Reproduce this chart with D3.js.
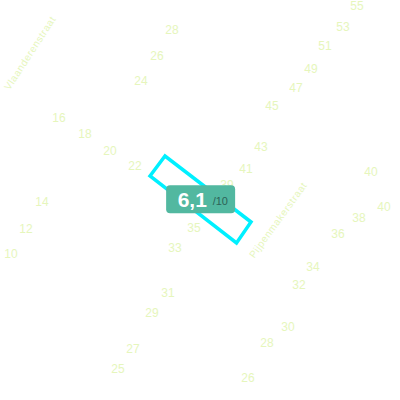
<!DOCTYPE html>
<html>
<head>
<meta charset="utf-8">
<script src="https://cdn.jsdelivr.net/npm/d3@7"></script>
<style>
  body { margin: 0; background: #fff; }
  svg { display: block; font-family: "Liberation Sans", Arial, sans-serif; }
</style>
</head>
<body>
<div class="canvas"></div>
<script>
// map units (half pixels), x to the east, y to the south
const houseNumbers = [55, 53, 51, 49, 47, 45, 43, 41, 39, 40, 40, 38, 36, 34, 32, 30, 28, 26,
                      28, 26, 24, 16, 18, 20, 22, 14, 12, 10, 35, 33, 31, 29, 27, 25];
const houseX = [178.5, 171.5, 162.5, 155.5, 148, 136, 130.5, 123, 113.5, 185.5, 192, 179.5, 169, 156.5, 149.5, 144, 133.5, 124,
                86, 78.5, 70.5, 29.5, 42.5, 55, 67.5, 21, 13, 5.5, 97, 87.5, 84, 76, 66.5, 59];
const houseY = [3, 13.5, 23, 34.5, 44, 53, 73.5, 84.5, 92.5, 86, 103.5, 109, 117, 133.5, 142.5, 163.5, 171.5, 189,
                15, 28, 40.5, 59, 67, 75.5, 83, 101, 114.5, 127, 114, 124, 146.5, 156.5, 174.5, 184.5];

const streetNames = ['Vlaanderenstraat', 'Pijpenmakerstraat'];
const streetX = [15, 139];
const streetY = [26.5, 110];
const streetAngle = [-57, -54];

// highlighted building outline (corners)
const buildingX = [75, 82.5, 125.5, 118.25];
const buildingY = [88, 78, 111, 121.5];

const score = 6.1;
const scoreMax = 10;

const width = 400, height = 400;

const svg = d3.select('.canvas')
    .append('svg')
    .attr('width', width)
    .attr('height', height);

const x = d3.scaleLinear().domain([0, 200]).range([0, width]);
const y = d3.scaleLinear().domain([0, 200]).range([0, height]);

const labelColor = '#e6f6bc';

// house numbers
svg.append('g').selectAll('text')
    .data(houseNumbers)
    .join('text')
    .attr('x', (d, i) => x(houseX[i]))
    .attr('y', (d, i) => y(houseY[i]))
    .attr('text-anchor', 'middle')
    .attr('dominant-baseline', 'central')
    .attr('font-size', 12)
    .attr('fill', labelColor)
    .text(d => d);

// street names along the street
svg.append('g').selectAll('text')
    .data(streetNames)
    .join('text')
    .attr('transform', (d, i) => `translate(${x(streetX[i])},${y(streetY[i])}) rotate(${streetAngle[i]})`)
    .attr('text-anchor', 'middle')
    .attr('dominant-baseline', 'central')
    .attr('font-size', 10)
    .attr('letter-spacing', 0.6)
    .attr('fill', labelColor)
    .text(d => d);

// building
const line = d3.line()
    .x(d => x(d[0]))
    .y(d => y(d[1]))
    .curve(d3.curveLinearClosed);

svg.append('path')
    .datum(buildingX.map((bx, i) => [bx, buildingY[i]]))
    .attr('d', line)
    .attr('fill', 'none')
    .attr('stroke', '#00f0ff')
    .attr('stroke-width', 3.5)
    .attr('stroke-linejoin', 'miter');

// score badge at the building centre
const cx = x(d3.mean(buildingX));
const cy = y(d3.mean(buildingY));

const badge = svg.append('g')
    .attr('transform', `translate(${cx},${cy})`);

badge.append('rect')
    .attr('x', -34.5)
    .attr('y', -14)
    .attr('width', 69)
    .attr('height', 28)
    .attr('rx', 4)
    .attr('fill', '#52b8a0');

badge.append('text')
    .attr('x', -23)
    .attr('y', 8)
    .attr('font-size', 21)
    .attr('font-weight', 'bold')
    .attr('fill', '#fff')
    .text(d3.format('.1f')(score).replace('.', ','));

badge.append('text')
    .attr('x', 12)
    .attr('y', 6)
    .attr('font-size', 11)
    .attr('fill', '#2d6357')
    .text('/' + scoreMax);
</script>
</body>
</html>
